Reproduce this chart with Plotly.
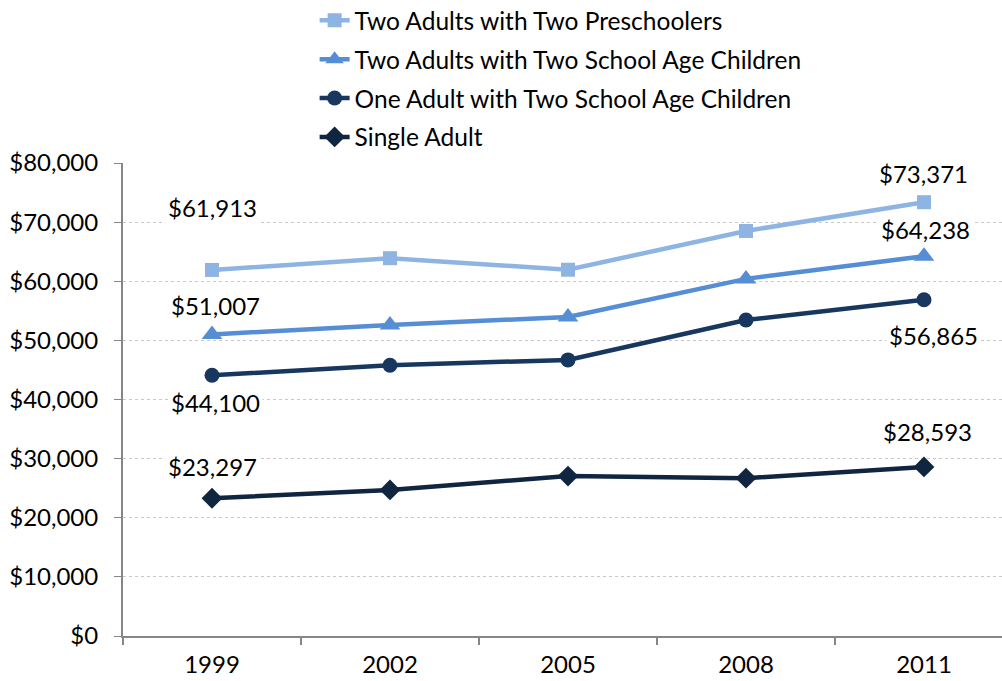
import plotly.graph_objects as go

years = [1999, 2002, 2005, 2008, 2011]
year_labels = ["1999", "2002", "2005", "2008", "2011"]
series_names = [
    "Two Adults with Two Preschoolers",
    "Two Adults with Two School Age Children",
    "One Adult with Two School Age Children",
    "Single Adult",
]
two_adults_preschool = [61913, 63900, 61950, 68500, 73371]
two_adults_school = [51007, 52600, 53950, 60400, 64238]
one_adult_school = [44100, 45800, 46700, 53450, 56865]
single_adult = [23297, 24700, 27050, 26700, 28593]

series_values = [two_adults_preschool, two_adults_school, one_adult_school, single_adult]
colors = ["#8EB4E3", "#558ED5", "#17375E", "#10253F"]
symbols = ["square", "triangle-up", "circle", "diamond"]
sizes = [14, 18, 15, 16]

FONT = "Lato"
TICK_SIZE = 24

fig = go.Figure()
for i, (name, vals, col, sym, sz) in enumerate(zip(series_names, series_values, colors, symbols, sizes)):
    fig.add_trace(go.Scatter(
        x=years, y=vals, name=name, mode="lines+markers", legendgroup=f"g{i}",
        line=dict(color=col, width=4.5),
        marker=dict(symbol=sym, size=sz, color=col),
    ))

# value labels at the first and last year (pixel offsets from the point)
label_offsets = [
    (0, 62, 0, 29),
    (3, 29, 2, 27),
    (3, -27, 10, -36),
    (0, 32, 4, 35),
]
for vals, (dx0, dy0, dx1, dy1) in zip(series_values, label_offsets):
    for idx, dx, dy in ((0, dx0, dy0), (-1, dx1, dy1)):
        fig.add_annotation(
            x=years[idx], y=vals[idx], text=f"${vals[idx]:,}",
            showarrow=False, xshift=dx, yshift=dy,
            font=dict(family=FONT, size=TICK_SIZE, color="#000000"),
            bgcolor="white", borderpad=2,
        )

fig.update_layout(
    width=1002, height=681,
    margin=dict(l=123, r=0, t=163, b=45, autoexpand=False),
    paper_bgcolor="white", plot_bgcolor="white",
    font=dict(family=FONT, size=TICK_SIZE, color="#000000"),
    showlegend=True,
    legend=dict(
        x=0.218, y=1.349, xanchor="left", yanchor="top",
        font=dict(family=FONT, size=24.5, color="#000000"),
        bgcolor="rgba(0,0,0,0)", tracegroupgap=4, itemwidth=30,
    ),
    xaxis=dict(
        range=[1997.5, 2012.315], tickmode="array", tickvals=years, ticktext=year_labels,
        ticks="", ticklabelstandoff=6, showline=True, linecolor="#868686", linewidth=2,
        showgrid=False, zeroline=False,
        minor=dict(tick0=1997.5, dtick=3, ticks="outside", ticklen=7,
                   tickcolor="#868686", tickwidth=2, showgrid=False),
        tickfont=dict(family=FONT, size=TICK_SIZE, color="#000000"),
    ),
    yaxis=dict(
        range=[0, 80000], dtick=10000, tickprefix="$", tickformat=",d",
        showline=True, linecolor="#868686", linewidth=2,
        ticks="outside", ticklen=7, tickcolor="#868686", tickwidth=1,
        ticklabelstandoff=11,
        showgrid=True, gridcolor="#C8C8C8", griddash="dot", gridwidth=1,
        zeroline=False,
        tickfont=dict(family=FONT, size=TICK_SIZE, color="#000000"),
    ),
)

fig.write_html("out.html")
